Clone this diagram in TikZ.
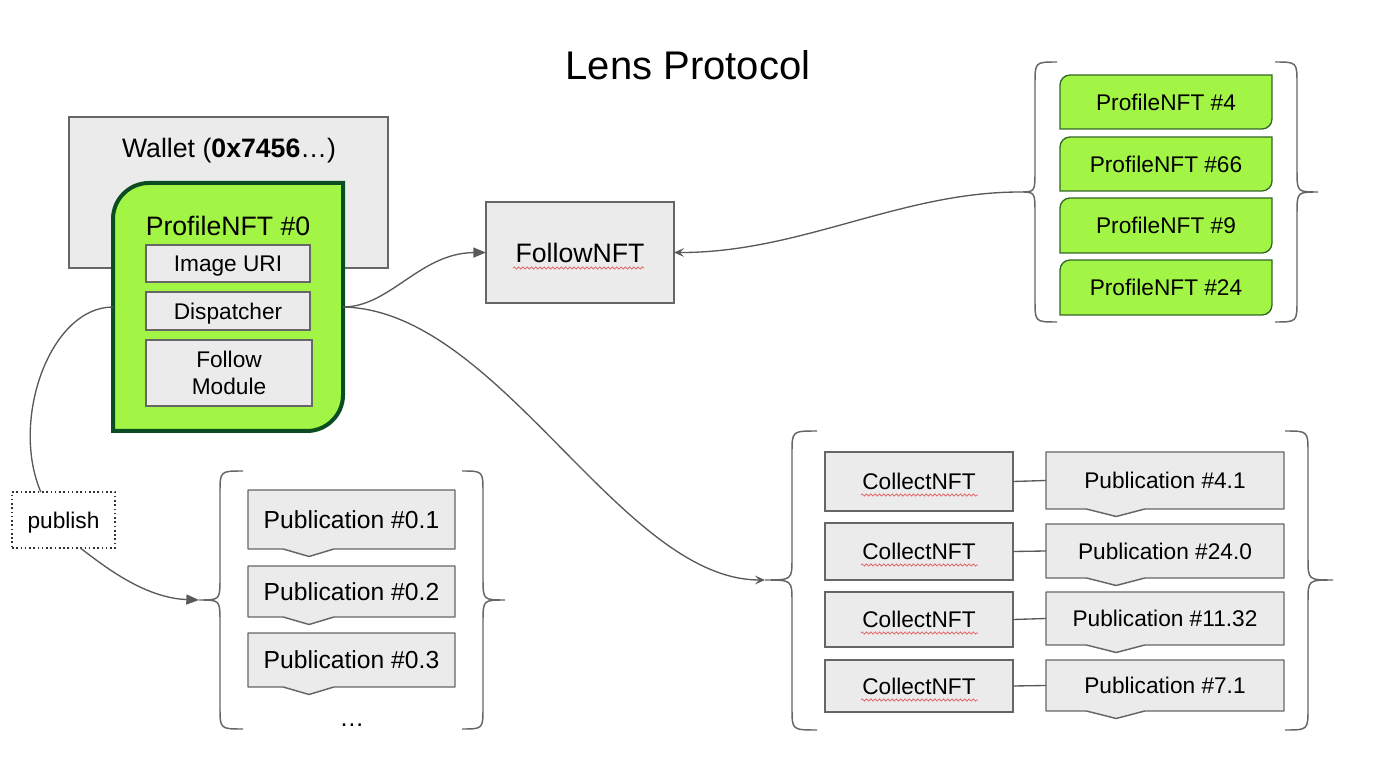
\documentclass[tikz,border=0pt]{standalone}
\usepackage{fontspec}
\setmainfont{Liberation Sans}
\usetikzlibrary{arrows.meta,decorations.pathmorphing}
\definecolor{boxgray}{HTML}{EBEBEB}
\definecolor{edgegray}{HTML}{666666}
\definecolor{conngray}{HTML}{595959}
\definecolor{nftgreen}{HTML}{A3F545}
\definecolor{darkgreen}{HTML}{0B4D22}
\definecolor{midgreen}{HTML}{33662A}
\definecolor{squigred}{HTML}{E06666}
% leaf-shaped box: rounded top-left and bottom-right corners
\newcommand{\leafpath}[6]{%
  \draw[#1] (#2,#5) -- (#2,#3+#6) .. controls (#2,#3+0.45*#6) and (#2+0.45*#6,#3) .. (#2+#6,#3)
    -- (#4,#3) -- (#4,#5-#6) .. controls (#4,#5-0.45*#6) and (#4-0.45*#6,#5) .. (#4-#6,#5) -- cycle;}
% publication box with a small notch below
\newcommand{\pubshape}[4]{%
  \draw[pubfill] (#1,#2) -- (#3,#2) -- (#3,#4) -- ({#1+0.415*(#3-#1)},#4)
    -- ({#1+0.295*(#3-#1)},#4+7.5) -- ({#1+0.17*(#3-#1)},#4) -- (#1,#4) -- cycle;}
% curly brace: tip x, vertical x, hook x, top y, middle y, bottom y
\newcommand{\curlybr}[6]{%
  \draw[bracestyle] (#3,#4) .. controls (#2,#4) .. (#2,#4+22) -- (#2,#5-22)
    .. controls (#2,#5) .. (#1,#5) .. controls (#2,#5) .. (#2,#5+22) -- (#2,#6-22)
    .. controls (#2,#6) .. (#3,#6);}
\begin{document}
\begin{tikzpicture}[x=0.75pt,y=-0.75pt,
  sz/.style 2 args={minimum width=#1*0.75pt, minimum height=#2*0.75pt, inner sep=0pt, outer sep=0pt},
  graybox/.style={draw=edgegray, fill=boxgray, line width=1.1pt},
  pubfill/.style={draw=edgegray, fill=boxgray, line width=1.1pt, line join=round},
  profbig/.style={draw=darkgreen, fill=nftgreen, line width=3pt},
  profsmall/.style={draw=midgreen, fill=nftgreen, line width=1pt},
  bracestyle/.style={draw=edgegray, line width=1.1pt},
  conn/.style={draw=conngray, line width=1pt},
  linkstyle/.style={draw=conngray, line width=1pt},
  filltip/.style={-{Triangle[length=9.5pt,width=7.5pt]}},
  opentip/.style={-{Stealth[length=7.5pt,width=6.5pt,inset=3pt]}},
  bigtext/.style={font=\fontsize{20}{24}\selectfont, text height=14.3pt, text depth=0pt},
  smalltext/.style={font=\fontsize{17}{20}\selectfont, text height=12.2pt, text depth=0pt},
  pubtext/.style={font=\fontsize{18.5}{22}\selectfont, text height=13.25pt, text depth=0pt},
  twoline/.style={font=\fontsize{17}{20}\selectfont, align=center},
  titletext/.style={font=\fontsize{30}{36}\selectfont, text height=21.5pt, text depth=0pt},
  squiggle/.style={draw=squigred, line width=0.6pt, decorate,
    decoration={snake, segment length=3.2pt, amplitude=0.8pt}},
  pubdot/.style={draw=black!80, fill=white, line width=0.9pt, dash pattern=on 1.2pt off 2pt}
]
\useasboundingbox (0,0) rectangle (1375,773);

% title
\node[titletext] (title) at (688,65) {Lens Protocol};

% wallet
\node[graybox, sz={319}{151}] (wallet) at (228.5,192.5) {};
\node[bigtext] (wallettext) at (229,148) {Wallet (\textbf{0x7456}…)};

% ProfileNFT #0
\leafpath{profbig}{113}{183}{343}{431}{36}
\node[sz={230}{248}] (prof) at (228,307) {};
\node[bigtext] (proftitle) at (228,226) {ProfileNFT \#0};
\node[graybox, smalltext, sz={164}{37}] (uri) at (228,263.5) {Image URI};
\node[graybox, smalltext, sz={164}{38}] (disp) at (228,311) {Dispatcher};
\node[graybox, twoline, sz={166}{66}] (fmod) at (229,373) {Follow\\Module};

% FollowNFT
\node[graybox, bigtext, sz={188}{101}] (follow) at (580,252.5) {FollowNFT};
\draw[squiggle] (513,268) -- (644,268);

% other profiles
\leafpath{profsmall}{1060}{75}{1272}{129}{10}
\node[smalltext, sz={212}{54}] (p4) at (1166,102) {ProfileNFT \#4};
\leafpath{profsmall}{1060}{137}{1272}{191}{10}
\node[smalltext, sz={212}{54}] (p66) at (1166,164) {ProfileNFT \#66};
\leafpath{profsmall}{1060}{198}{1272}{253}{10}
\node[smalltext, sz={212}{55}] (p9) at (1166,225.5) {ProfileNFT \#9};
\leafpath{profsmall}{1060}{260}{1272}{315}{10}
\node[smalltext, sz={212}{55}] (p24) at (1166,287.5) {ProfileNFT \#24};
\curlybr{1020}{1035}{1057}{62}{192}{322}
\curlybr{1318}{1297}{1275}{62}{192}{322}
\coordinate (ptip) at (1020,192);

% own publications
\pubshape{248}{490}{455}{549}
\node[pubtext, sz={207}{59}] (pub1) at (351.5,519.5) {Publication \#0.1};
\pubshape{248}{566}{455}{617}
\node[pubtext, sz={207}{51}] (pub2) at (351.5,591.5) {Publication \#0.2};
\pubshape{248}{633}{455}{687}
\node[pubtext, sz={207}{54}] (pub3) at (351.5,660) {Publication \#0.3};
\node[pubtext] (pubdots) at (352,718) {…};
\curlybr{199}{220}{243}{471}{600}{729}
\curlybr{505}{483}{462}{471}{600}{729}
\coordinate (pubtip) at (199,600);

% collected publications
\node[graybox, smalltext, sz={188}{59}] (c1) at (919,481.5) {CollectNFT};
\node[graybox, smalltext, sz={188}{57}] (c2) at (919,551.5) {CollectNFT};
\node[graybox, smalltext, sz={188}{55}] (c3) at (919,619.5) {CollectNFT};
\node[graybox, smalltext, sz={188}{52}] (c4) at (919,686) {CollectNFT};
\draw[squiggle] (861,495) -- (978,495);
\draw[squiggle] (861,565) -- (978,565);
\draw[squiggle] (861,633) -- (978,633);
\draw[squiggle] (861,700) -- (978,700);
\pubshape{1046}{452}{1284}{509}
\node[smalltext, sz={238}{57}] (q1) at (1165,480.5) {Publication \#4.1};
\pubshape{1046}{524}{1284}{578}
\node[smalltext, sz={238}{54}] (q2) at (1165,551) {Publication \#24.0};
\pubshape{1046}{592}{1284}{645}
\node[smalltext, sz={238}{53}] (q3) at (1165,618.5) {Publication \#11.32};
\pubshape{1046}{660}{1284}{711}
\node[smalltext, sz={238}{51}] (q4) at (1165,685.5) {Publication \#7.1};
\draw[linkstyle] (c1.east) -- (q1.west);
\draw[linkstyle] (c2.east) -- (q2.west);
\draw[linkstyle] (c3.east) -- (q3.west);
\draw[linkstyle] (c4.east) -- (q4.west);
\curlybr{765}{792}{817}{431}{580}{730}
\curlybr{1333}{1308}{1285}{431}{580}{730}
\coordinate (coltip) at (765,580);

% publish label
\node[pubdot, smalltext, sz={103}{56}] (publish) at (63.5,520) {publish};

% connectors
\draw[conn, filltip] (prof.east) .. controls (390,307) and (420,253) .. (follow.west);
\draw[conn, opentip] (prof.east) .. controls (500,310) and (620,580) .. (coltip);
\draw[conn, opentip] (ptip) .. controls (900,192) and (800,253) .. (follow.east);
\draw[conn] (prof.west) .. controls (50,307) and (10,420) .. (publish.129);
\draw[conn, filltip] (publish.-59) .. controls (105,567) and (145,598) .. (pubtip);
\end{tikzpicture}
\end{document}
